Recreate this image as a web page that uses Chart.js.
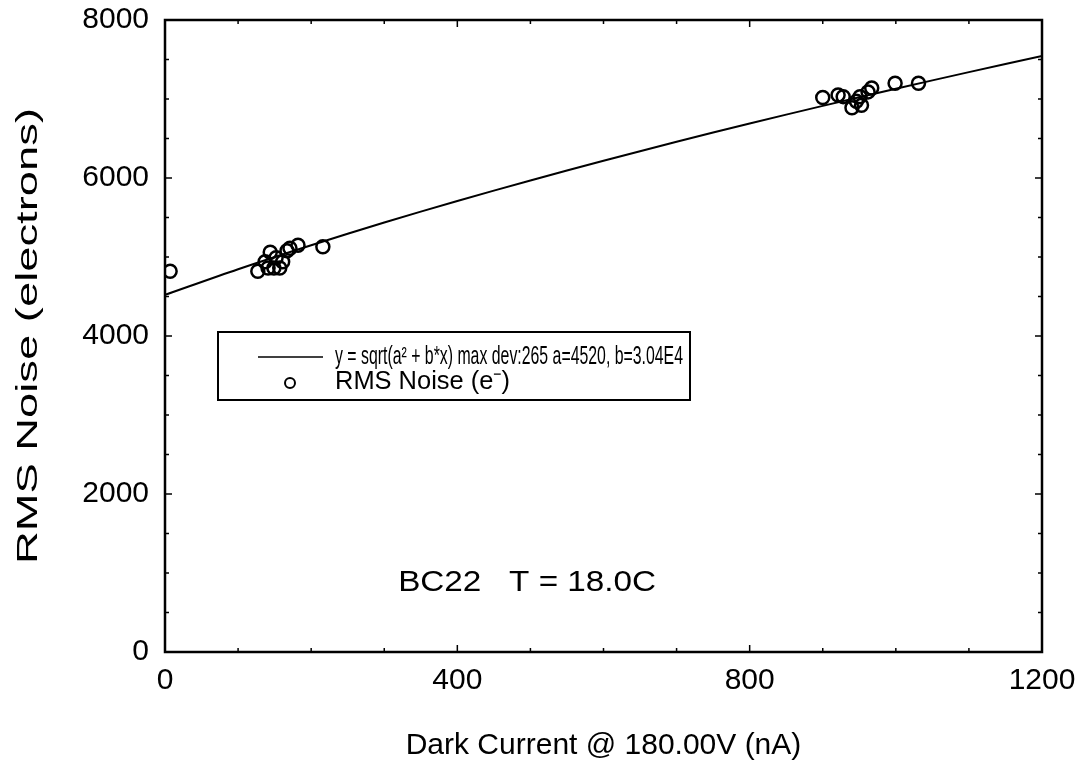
<!DOCTYPE html>
<html>
<head>
<meta charset="utf-8">
<title>RMS Noise vs Dark Current</title>
<script src="https://cdn.jsdelivr.net/npm/chart.js@4"></script>
<style>
  html, body { margin: 0; padding: 0; background: #fff; }
  canvas { display: block; }
</style>
</head>
<body>
<canvas id="noiseChart" width="1085" height="772"></canvas>
<script>
// fit curve y = sqrt(a^2 + b*x), every 100 nA
const fitCurrent = [0, 100, 200, 300, 400, 500, 600, 700, 800, 900, 1000, 1100, 1200];
const fitNoise = [4520, 4845, 5149, 5436, 5709, 5969, 6219, 6458, 6690, 6913, 7130, 7340, 7544];

// measured points (nA, electrons)
const darkCurrent = [7, 127, 137, 141, 144, 149, 152, 157, 161, 167, 171, 182, 216,
	900, 921, 928, 940, 946, 951, 953, 962, 967, 999, 1031];
const rmsNoise = [4820, 4820, 4940, 4860, 5060, 4860, 4990, 4860, 4940, 5080, 5110, 5150, 5130,
	7020, 7050, 7030, 6890, 6970, 7030, 6920, 7090, 7140, 7200, 7200];

const seriesLabels = ['y = sqrt(a² + b*x) max dev:265 a=4520, b=3.04E4', 'RMS Noise (e⁻)'];
const xTickLabels = ['0', '400', '800', '1200'];
const yTickLabels = ['0', '2000', '4000', '6000', '8000'];
const xTitle = 'Dark Current @ 180.00V (nA)';
const yTitle = 'RMS Noise (electrons)';
const noteText = 'BC22   T = 18.0C';
const notePos = [319, 880];

const FONT = '"Liberation Sans", Arial, sans-serif';

function toPoints(xs, ys) {
	return xs.map((x, i) => ({x: x, y: ys[i]}));
}

// the scanned original has its text squeezed/stretched sideways,
// so squash each string to the width it takes there
function fitText(ctx, text, x, y, width) {
	const w = ctx.measureText(text).width;
	ctx.save();
	ctx.translate(x, y);
	ctx.scale(width / w, 1);
	ctx.fillText(text, 0, 0);
	ctx.restore();
}

// inward ticks on all four sides plus the closed frame
const frameTicks = {
	id: 'frameTicks',
	afterDraw(chart) {
		const {ctx, chartArea: a, scales} = chart;
		ctx.save();
		ctx.strokeStyle = '#000';
		ctx.lineWidth = 1.5;
		scales.x.ticks.forEach(t => {
			const px = scales.x.getPixelForValue(t.value);
			const len = xTickLabels.includes(String(t.value)) ? 7 : 4;
			ctx.beginPath();
			ctx.moveTo(px, a.bottom); ctx.lineTo(px, a.bottom - len);
			ctx.moveTo(px, a.top); ctx.lineTo(px, a.top + len);
			ctx.stroke();
		});
		scales.y.ticks.forEach(t => {
			const py = scales.y.getPixelForValue(t.value);
			const len = yTickLabels.includes(String(t.value)) ? 7 : 4;
			ctx.beginPath();
			ctx.moveTo(a.left, py); ctx.lineTo(a.left + len, py);
			ctx.moveTo(a.right, py); ctx.lineTo(a.right - len, py);
			ctx.stroke();
		});
		ctx.lineWidth = 2.5;
		ctx.strokeRect(a.left, a.top, a.right - a.left, a.bottom - a.top);

		// y axis title, stretched along its length like the original
		ctx.fillStyle = '#000';
		ctx.font = '30px ' + FONT;
		ctx.textAlign = 'left';
		ctx.textBaseline = 'middle';
		ctx.save();
		ctx.translate(29, (a.top + a.bottom) / 2 + 228);
		ctx.rotate(-Math.PI / 2);
		fitText(ctx, yTitle, 0, 0, 456);
		ctx.restore();
		ctx.restore();
	}
};

// boxed legend inside the plot, and the run note
const insideLegend = {
	id: 'insideLegend',
	afterDatasetsDraw(chart) {
		const {ctx, chartArea: a, scales} = chart;
		const bx = a.left + 53, by = a.top + 312, bw = 472, bh = 68;
		ctx.save();
		ctx.fillStyle = '#fff';
		ctx.fillRect(bx, by, bw, bh);
		ctx.strokeStyle = '#000';
		ctx.lineWidth = 2;
		ctx.strokeRect(bx, by, bw, bh);

		ctx.fillStyle = '#000';
		ctx.font = '25px ' + FONT;
		ctx.textBaseline = 'middle';
		ctx.textAlign = 'left';

		ctx.lineWidth = 1.5;
		ctx.beginPath();
		ctx.moveTo(bx + 40, by + 25);
		ctx.lineTo(bx + 105, by + 25);
		ctx.stroke();
		fitText(ctx, seriesLabels[0], bx + 117, by + 25, 348);
		fitText(ctx, seriesLabels[1], bx + 117, by + 50, 175);

		ctx.lineWidth = 2;
		ctx.beginPath();
		ctx.arc(bx + 72, by + 51, 5, 0, Math.PI * 2);
		ctx.stroke();

		ctx.font = '30px ' + FONT;
		fitText(ctx, noteText, scales.x.getPixelForValue(notePos[0]), scales.y.getPixelForValue(notePos[1]), 258);
		ctx.restore();
	}
};

new Chart('noiseChart', {
	type: 'scatter',
	data: {
		datasets: [{
			label: seriesLabels[0],
			data: toPoints(fitCurrent, fitNoise),
			showLine: true,
			borderColor: '#000',
			borderWidth: 2,
			pointRadius: 0,
			tension: 0.3,
			order: 2
		}, {
			label: seriesLabels[1],
			data: toPoints(darkCurrent, rmsNoise),
			showLine: false,
			pointStyle: 'circle',
			pointRadius: 6.5,
			pointBorderWidth: 2.5,
			pointBackgroundColor: 'rgba(255,255,255,0)',
			pointBorderColor: '#000',
			order: 1
		}]
	},
	options: {
		responsive: false,
		animation: false,
		layout: {padding: {top: 20, right: 43, left: 0, bottom: 0}},
		plugins: {
			legend: {display: false},
			tooltip: {enabled: false}
		},
		scales: {
			x: {
				type: 'linear',
				min: 0,
				max: 1200,
				afterFit: s => { s.height = 120; s.paddingLeft = 0; s.paddingRight = 0; },
				border: {display: false},
				grid: {display: false, drawTicks: false},
				ticks: {
					stepSize: 100,
					autoSkip: false,
					maxRotation: 0,
					padding: 11,
					color: '#000',
					font: {family: FONT, size: 30},
					callback: v => xTickLabels.includes(String(v)) ? String(v) : ''
				},
				title: {
					display: true,
					text: xTitle,
					color: '#000',
					font: {family: FONT, size: 30},
					padding: {top: 0, bottom: 8}
				}
			},
			y: {
				type: 'linear',
				min: 0,
				max: 8000,
				afterFit: s => { s.width = 165; s.paddingTop = 0; s.paddingBottom = 0; },
				border: {display: false},
				grid: {display: false, drawTicks: false},
				ticks: {
					stepSize: 500,
					autoSkip: false,
					padding: 16,
					color: '#000',
					font: {family: FONT, size: 30},
					callback: v => yTickLabels.includes(String(v)) ? String(v) : ''
				},
				title: {display: false}
			}
		}
	},
	plugins: [frameTicks, insideLegend]
});
</script>
</body>
</html>
